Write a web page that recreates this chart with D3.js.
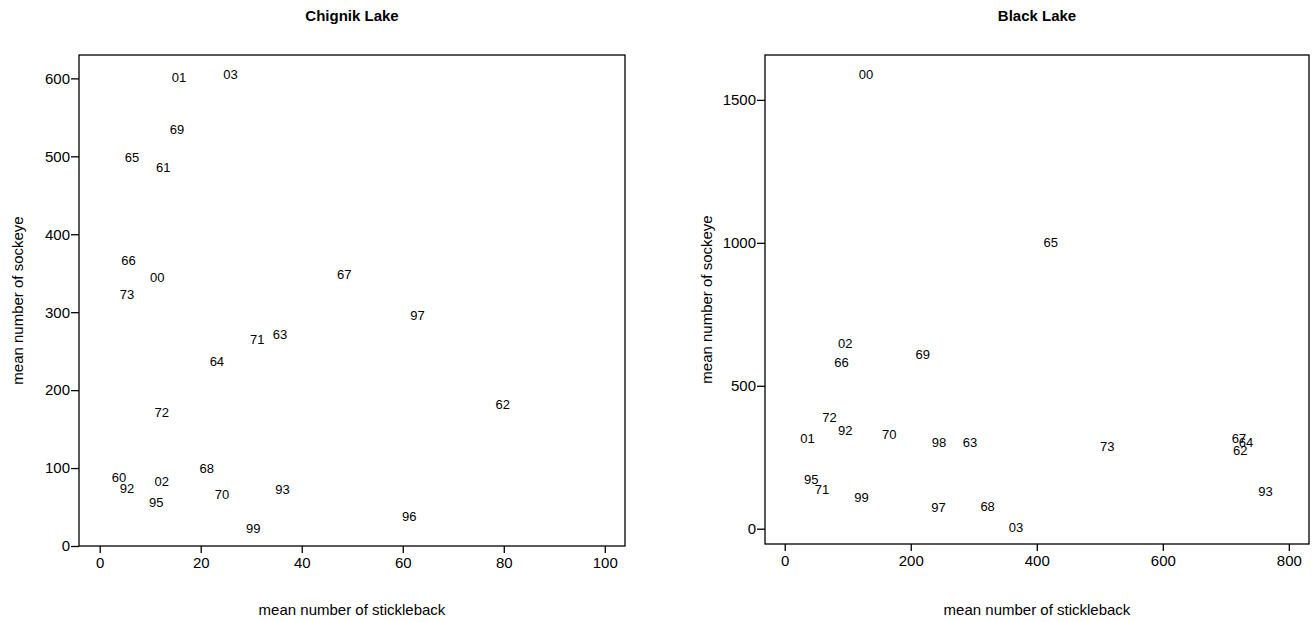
<!DOCTYPE html>
<html>
<head>
<meta charset="utf-8">
<script src="https://cdn.jsdelivr.net/npm/d3@7"></script>
<style>
  body { margin: 0; background: #fff; }
  text { font-family: "Liberation Sans", Arial, sans-serif; fill: #000; }
</style>
</head>
<body>
<div id="chart"></div>
<script>
// chignik lake - year labels, stickleback (x), sockeye (y)
var chignikYears = ["60", "61", "62", "63", "64", "65", "66", "67", "68", "69", "70", "71", "72", "73",
  "92", "93", "95", "96", "97", "99", "00", "01", "02", "03"];
var chignikStickle = [3.8, 12.6, 79.8, 35.7, 23.2, 6.4, 5.7, 48.4, 21.2, 15.3, 24.2, 31.2, 12.3, 5.4,
  5.4, 36.2, 11.2, 61.3, 62.9, 30.4, 11.4, 15.7, 12.3, 25.9];
var chignikSockeye = [88, 486, 182, 272, 237, 499, 366, 348, 99, 535, 66, 265, 171, 323,
  74, 72, 56, 38, 296, 22, 345, 601, 83, 605];

// black lake
var blackYears = ["62", "63", "64", "65", "66", "67", "68", "69", "70", "71", "72", "73",
  "92", "93", "95", "97", "98", "99", "00", "01", "02", "03"];
var blackStickle = [723, 294, 732, 422, 90, 721, 322, 219, 166, 59, 71, 512,
  96, 763, 42, 244, 245, 122, 129, 36, 96, 367];
var blackSockeye = [275, 303, 302, 1002, 583, 315, 79, 611, 328, 139, 390, 288,
  345, 132, 174, 76, 300, 111, 1590, 314, 649, 6];

// tick values
var chignikXTicks = [0, 20, 40, 60, 80, 100];
var chignikYTicks = [0, 100, 200, 300, 400, 500, 600];
var blackXTicks = [0, 200, 400, 600, 800];
var blackYTicks = [0, 500, 1000, 1500];

var svgWidth = 1315;
var svgHeight = 622;

var svg = d3.select("#chart")
  .append("svg")
  .attr("width", svgWidth)
  .attr("height", svgHeight);

function drawPanel(p) {
  var x = d3.scaleLinear().domain(p.xDomain).range([p.left, p.right]);
  var y = d3.scaleLinear().domain(p.yDomain).range([p.bottom, p.top]);

  var g = svg.append("g");

  // box round the plot
  g.append("rect")
    .attr("x", p.left)
    .attr("y", p.top)
    .attr("width", p.right - p.left)
    .attr("height", p.bottom - p.top)
    .attr("fill", "none")
    .attr("stroke", "#000")
    .attr("stroke-width", 1.3);

  // axes
  var bottomAxis = d3.axisBottom(x).tickValues(p.xTicks).tickSize(7).tickPadding(4).tickFormat(d3.format("d"));
  var leftAxis = d3.axisLeft(y).tickValues(p.yTicks).tickSize(8).tickPadding(1).tickFormat(d3.format("d"));

  var xa = g.append("g")
    .attr("transform", `translate(0, ${p.bottom})`)
    .call(bottomAxis);
  var ya = g.append("g")
    .attr("transform", `translate(${p.left}, 0)`)
    .call(leftAxis);

  [xa, ya].forEach(function(a) {
    a.select(".domain").remove();
    a.selectAll("line").attr("stroke", "#000").attr("stroke-width", 1.3);
    a.selectAll("text")
      .attr("fill", "#000")
      .style("font-size", "15px")
      .style("font-family", "'Liberation Sans', Arial, sans-serif");
  });

  // year labels as the points
  g.selectAll(".pt")
    .data(p.years)
    .enter()
    .append("text")
    .attr("class", "pt")
    .attr("x", (d, i) => x(p.xs[i]))
    .attr("y", (d, i) => y(p.ys[i]))
    .attr("dy", ".35em")
    .attr("text-anchor", "middle")
    .style("font-size", "13px")
    .text(d => d);

  var cx = (p.left + p.right) / 2;

  // title
  g.append("text")
    .attr("x", cx)
    .attr("y", 21)
    .attr("text-anchor", "middle")
    .style("font-size", "15px")
    .style("font-weight", "bold")
    .text(p.title);

  // axis labels
  g.append("text")
    .attr("x", cx)
    .attr("y", 615)
    .attr("text-anchor", "middle")
    .style("font-size", "15px")
    .text("mean number of stickleback");

  g.append("text")
    .attr("transform", `translate(${p.yLabelX}, ${(p.top + p.bottom) / 2}) rotate(-90)`)
    .attr("text-anchor", "middle")
    .style("font-size", "15px")
    .text("mean number of sockeye");
}

drawPanel({
  title: "Chignik Lake",
  years: chignikYears, xs: chignikStickle, ys: chignikSockeye,
  xTicks: chignikXTicks, yTicks: chignikYTicks,
  xDomain: [-4.1, 104], yDomain: [0, 630],
  left: 79, right: 625, top: 55, bottom: 546,
  yLabelX: 23
});

drawPanel({
  title: "Black Lake",
  years: blackYears, xs: blackStickle, ys: blackSockeye,
  xTicks: blackXTicks, yTicks: blackYTicks,
  xDomain: [-31.3, 832], yDomain: [-53.5, 1657],
  left: 765, right: 1309, top: 55, bottom: 544,
  yLabelX: 712
});
</script>
</body>
</html>
